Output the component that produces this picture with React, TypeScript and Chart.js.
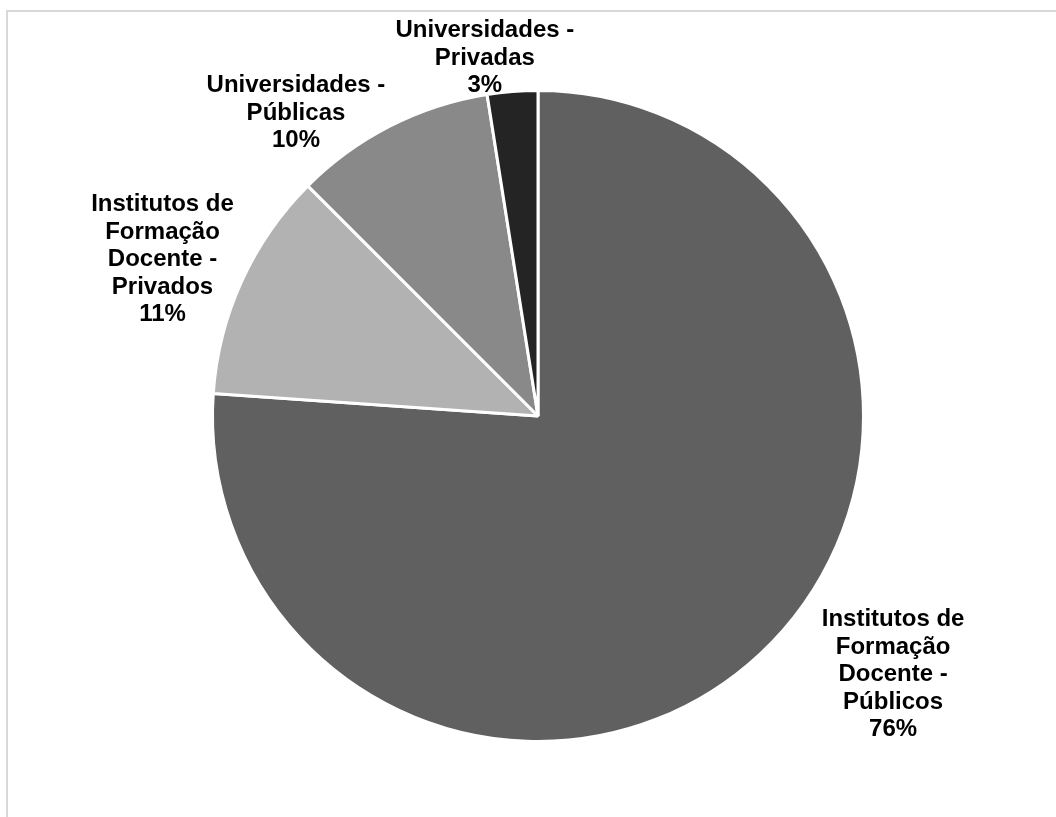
import React, { useEffect, useRef } from "react";
import { Chart, registerables } from "chart.js";

Chart.register(...registerables);

// Category names, already broken into the lines shown beside each slice
const categories: string[][] = [
  ["Institutos de", "Formação", "Docente -", "Públicos"],
  ["Institutos de", "Formação", "Docente -", "Privados"],
  ["Universidades -", "Públicas"],
  ["Universidades -", "Privadas"],
];

// Share of each institution type (%)
const shares: number[] = [76.1, 11.4, 10.0, 2.5];

const sliceColors: string[] = ["#606060", "#b2b2b2", "#898989", "#242424"];

// Label anchors (centre x, first baseline) relative to the pie centre, in pie radii
const labelAnchors: { x: number; y: number }[] = [
  { x: 1.096, y: 0.648 },
  { x: -1.159, y: -0.633 },
  { x: -0.747, y: -1.0 },
  { x: -0.164, y: -1.17 },
];

const W = 1056;
const H = 817;
const CX = 538;
const CY = 416;
const BOX = 330;

const outsideLabels = {
  id: "outsideLabels",
  afterDatasetsDraw(chart: any) {
    const meta = chart.getDatasetMeta(0);
    const ctx = chart.ctx as CanvasRenderingContext2D;
    const data = chart.data.datasets[0].data as number[];
    const total = data.reduce((a, b) => a + b, 0);
    ctx.save();
    ctx.fillStyle = "#000000";
    ctx.font = "bold 24px 'Liberation Sans', Arial, sans-serif";
    ctx.textAlign = "center";
    ctx.textBaseline = "alphabetic";
    meta.data.forEach((arc: any, i: number) => {
      const { x, y, outerRadius } = arc.getProps(["x", "y", "outerRadius"], true);
      const r = outerRadius - 1.5;
      const ax = x + labelAnchors[i].x * r;
      const ay = y + labelAnchors[i].y * r;
      const pct = Math.round((data[i] / total) * 100) + "%";
      const lines = [...(chart.data.labels[i] as string[]), pct];
      lines.forEach((line, k) => ctx.fillText(line, ax, ay + k * 27.6));
    });
    ctx.restore();
  },
};

export default function App() {
  const canvasRef = useRef<HTMLCanvasElement | null>(null);

  useEffect(() => {
    const canvas = canvasRef.current;
    if (!canvas) return;
    const chart = new Chart(canvas, {
      type: "pie",
      data: {
        labels: categories,
        datasets: [
          {
            data: shares,
            backgroundColor: sliceColors,
            borderColor: "#ffffff",
            borderWidth: 3,
            hoverOffset: 0,
            offset: 0,
            radius: 325.5,
          } as any,
        ],
      },
      options: {
        responsive: false,
        animation: false,
        events: [],
        layout: {
          padding: {
            left: CX - BOX,
            right: W - CX - BOX,
            top: CY - BOX,
            bottom: H - CY - BOX,
          },
        },
        plugins: {
          legend: { display: false },
          tooltip: { enabled: false },
          title: { display: false },
        },
      },
      plugins: [outsideLabels],
    });
    return () => chart.destroy();
  }, []);

  return (
    <div
      style={{
        position: "absolute",
        left: 0,
        top: 0,
        width: W,
        height: H,
        overflow: "hidden",
        background: "#ffffff",
      }}
    >
      <div
        style={{
          position: "absolute",
          left: 6,
          top: 10,
          width: W + 40,
          height: H + 40,
          border: "2px solid #d9d9d9",
          boxSizing: "border-box",
        }}
      />
      <canvas
        ref={canvasRef}
        width={W}
        height={H}
        style={{ position: "absolute", left: 0, top: 0, width: W, height: H }}
      />
    </div>
  );
}
